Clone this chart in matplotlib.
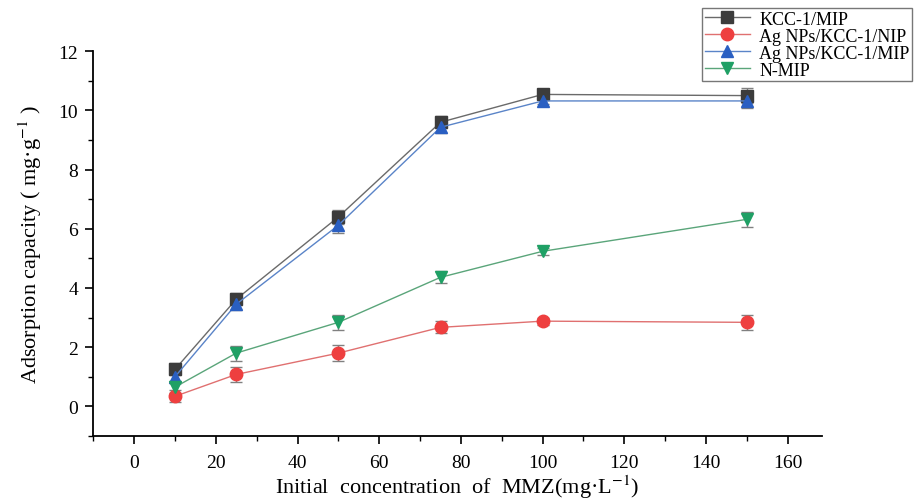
import matplotlib
matplotlib.use("Agg")
import matplotlib.pyplot as plt
from matplotlib.ticker import MultipleLocator

plt.rcParams['font.family'] = ['Liberation Serif', 'DejaVu Serif']
plt.rcParams['mathtext.fontset'] = 'stix'

conc = [10, 25, 50, 75, 100, 150]
kcc_mip = [1.25, 3.62, 6.4, 9.6, 10.54, 10.5]
kcc_mip_err = [0.2, 0.2, 0.25, 0.2, 0.12, 0.25]
ag_nip = [0.34, 1.08, 1.8, 2.67, 2.88, 2.84]
ag_nip_err = [0.2, 0.25, 0.28, 0.2, 0.12, 0.25]
ag_mip = [1.0, 3.45, 6.12, 9.43, 10.32, 10.32]
ag_mip_err = [0.2, 0.2, 0.25, 0.2, 0.12, 0.25]
n_mip = [0.65, 1.8, 2.84, 4.36, 5.24, 6.32]
n_mip_err = [0.2, 0.25, 0.25, 0.2, 0.12, 0.25]

labels = ['KCC-1/MIP', 'Ag NPs/KCC-1/NIP', 'Ag NPs/KCC-1/MIP', 'N-MIP']

fig = plt.figure(figsize=(9.14, 5.02), dpi=100)
ax = fig.add_axes([0.102, 0.1295, 0.797, 0.7665])

series = [
    (kcc_mip, kcc_mip_err, 's', '#3c3c3c', '#6a6a6a', 8),
    (ag_nip, ag_nip_err, 'o', '#ee3f3f', '#e07070', 9),
    (ag_mip, ag_mip_err, '^', '#2a5fc2', '#5a84c8', 9),
    (n_mip, n_mip_err, 'v', '#1fa065', '#5aa57a', 9),
]
handles = []
for (vals, errs, mk, mc, lc, ms), lab in zip(series, labels):
    cont = ax.errorbar(conc, vals, yerr=errs, fmt='-', marker=mk, color=lc,
                       markerfacecolor=mc, markeredgecolor=mc, markersize=ms,
                       linewidth=1.0, elinewidth=1.0, ecolor='#808080',
                       capsize=4, capthick=1.0, label=lab)
    handles.append(cont[0])

ax.set_xlim(-10, 168.3)
ax.set_ylim(-1, 12)
ax.xaxis.set_major_locator(MultipleLocator(20))
ax.xaxis.set_minor_locator(MultipleLocator(10))
ax.yaxis.set_major_locator(MultipleLocator(2))
ax.yaxis.set_minor_locator(MultipleLocator(1))
ax.spines['top'].set_visible(False)
ax.spines['right'].set_visible(False)
for s in ['left', 'bottom']:
    ax.spines[s].set_linewidth(1.3)
ax.tick_params(which='major', direction='out', length=6, width=1.2, labelsize=14)
ax.tick_params(axis='x', which='major', pad=7)
ax.tick_params(axis='y', which='major', pad=5)
ax.tick_params(which='minor', direction='out', length=3.5, width=1.0)

ax.set_xlabel('Initial  concentration  of  MMZ(mg·L$^{-1}$)', fontsize=16, labelpad=1)
ax.set_ylabel('Adsorption capacity ( mg·g$^{-1}$ )', fontsize=16, labelpad=10)

leg = ax.legend(handles=handles, labels=labels, loc='upper right',
                bbox_to_anchor=(0.998, 0.982), bbox_transform=fig.transFigure,
                fontsize=13, frameon=True, fancybox=False, edgecolor='#555555',
                handlelength=2.5, borderpad=0.15, labelspacing=0.0, handletextpad=0.5,
                borderaxespad=0)
leg.get_frame().set_linewidth(1.0)

fig.savefig('out.png', dpi=100)
